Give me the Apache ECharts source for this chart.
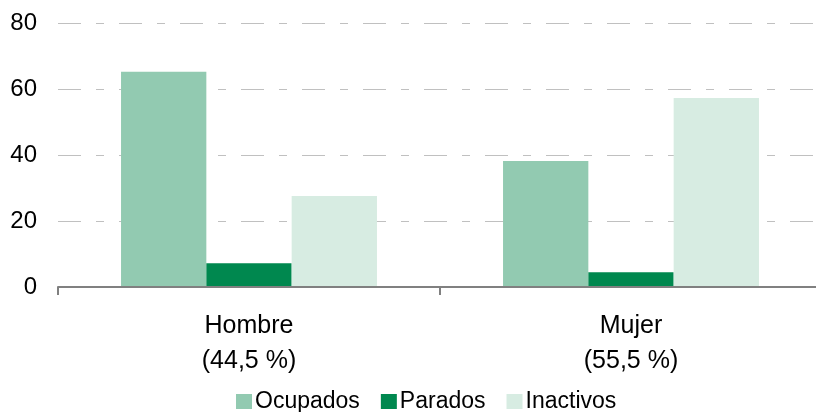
<!DOCTYPE html>
<html>
<head>
<meta charset="utf-8">
<script src="https://cdn.jsdelivr.net/npm/echarts@6/dist/echarts.min.js"></script>
<style>
  html, body { margin: 0; padding: 0; background: #fff; }
  #chart { width: 816px; height: 412px; }
</style>
</head>
<body>
<div id="chart"></div>
<script>
// categorias (sexo)
var categorias = ['Hombre\n(44,5 %)', 'Mujer\n(55,5 %)'];
// porcentajes por situacion
var ocupados = [65.2, 38.2];
var parados = [7.2, 4.5];
var inactivos = [27.6, 57.3];
var nombres = ['Ocupados', 'Parados', 'Inactivos'];

var chart = echarts.init(document.getElementById('chart'));

var fuente = 'Liberation Sans, Arial, sans-serif';

var option = {
  animation: false,
  color: ['#92cab1', '#00884f', '#d7ece2'],
  grid: {
    left: 58,
    width: 764,
    top: 23,
    bottom: 125,
    outerBoundsMode: 'none'
  },
  legend: {
    data: nombres,
    top: 385,
    left: 231,
    itemWidth: 16,
    itemHeight: 15,
    itemGap: 21,
    icon: 'rect',
    textStyle: { fontFamily: fuente, fontSize: 23, color: '#000', padding: [0, 0, 0, -2] }
  },
  xAxis: {
    type: 'category',
    data: categorias,
    z: 5,
    axisLine: { lineStyle: { color: '#808080', width: 2 } },
    axisTick: { show: true, length: 8, lineStyle: { color: '#808080', width: 2 } },
    axisLabel: {
      fontFamily: fuente,
      fontSize: 25,
      color: '#000',
      lineHeight: 35,
      margin: 22
    }
  },
  yAxis: {
    type: 'value',
    min: 0,
    max: 80,
    interval: 20,
    axisLine: { show: false },
    axisTick: { show: false },
    splitLine: {
      lineStyle: { color: '#c0c0c0', width: 1, type: [23, 15, 8, 15] }
    },
    axisLabel: {
      fontFamily: fuente,
      fontSize: 24,
      color: '#000',
      margin: 21
    }
  },
  series: [
    { name: nombres[0], type: 'bar', data: ocupados, barGap: 0, barCategoryGap: '33%' },
    { name: nombres[1], type: 'bar', data: parados, barGap: 0, barCategoryGap: '33%' },
    { name: nombres[2], type: 'bar', data: inactivos, barGap: 0, barCategoryGap: '33%' }
  ]
};

chart.setOption(option);
</script>
</body>
</html>
